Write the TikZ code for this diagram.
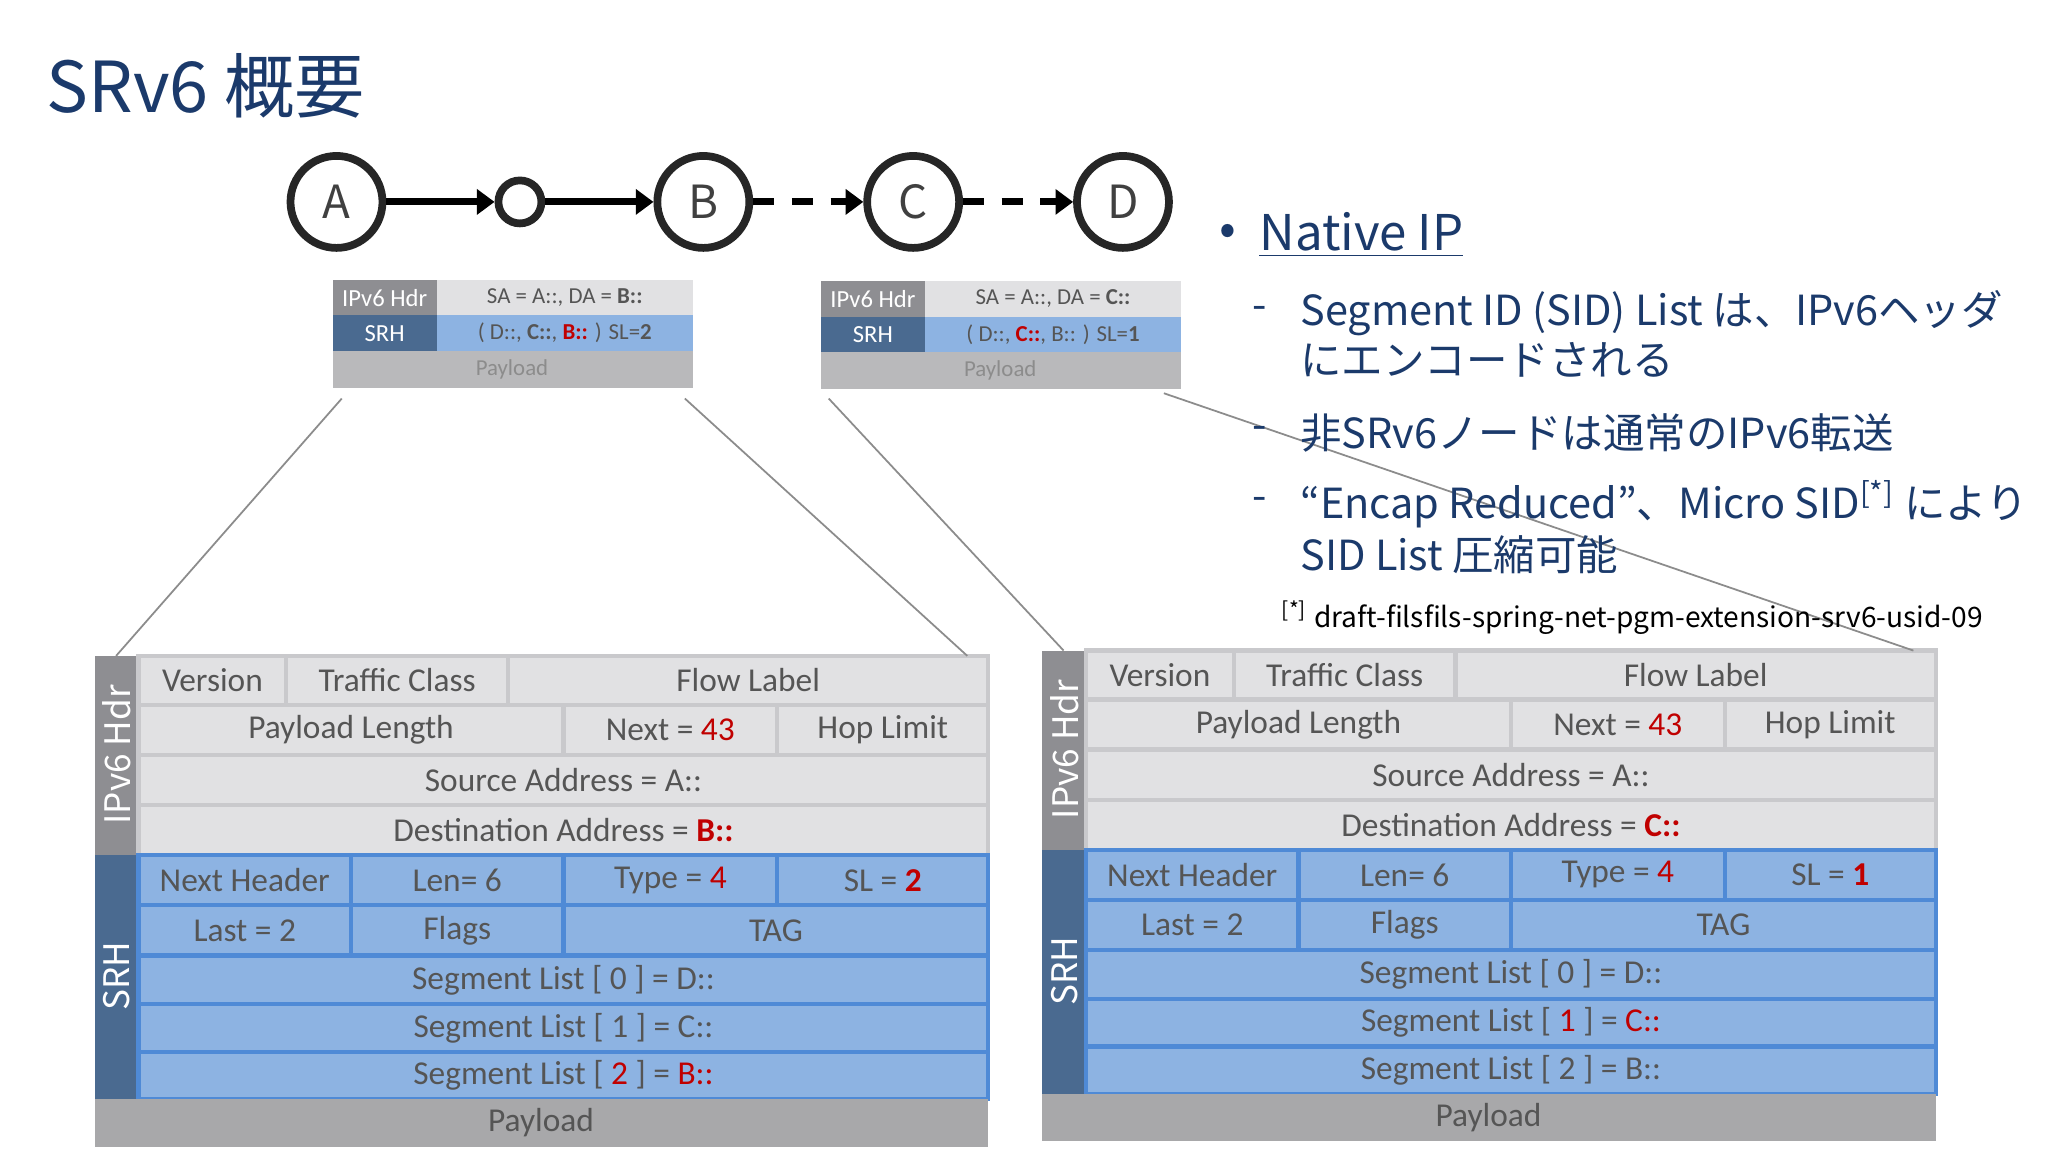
\documentclass[tikz,border=0pt]{standalone}
\usepackage{fontspec}
\setmainfont{Noto Sans CJK JP}
\newfontfamily\carl{Carlito}
\usetikzlibrary{arrows.meta}
\definecolor{hdrgray}{HTML}{E1E1E3}
\definecolor{hdrline}{HTML}{C9C9CC}
\definecolor{srhblue}{HTML}{8DB3E2}
\definecolor{srhline}{HTML}{4F8AD6}
\definecolor{lblgray}{HTML}{8E8E92}
\definecolor{lblblue}{HTML}{4A6A90}
\definecolor{paygray}{HTML}{A8A8AA}
\definecolor{txtgray}{HTML}{555555}
\definecolor{redtxt}{HTML}{C00000}
\definecolor{titleblue}{HTML}{1B3A6B}
\tikzset{
  hop/.style={circle, draw=black!85, line width=2.2pt, minimum size=9.2mm, inner sep=0pt, font=\fontsize{13}{13}\selectfont, text=black!75},
  link/.style={line width=2pt, -{Triangle[length=5pt,width=7pt]}},
  hcell/.style={fill=hdrgray, draw=hdrline, line width=1.2pt},
  scell/.style={fill=srhblue, draw=srhline, line width=1.2pt},
  cellt/.style={font=\carl\fontsize{9.5}{10}\selectfont, text=txtgray},
  boxt/.style={font=\carl\fontsize{6.5}{7}\selectfont, text=txtgray},
  zoomline/.style={draw=black!45, line width=0.5pt}
}
% cell: x1 x2 y1 y2 style text
\newcommand\cell[6]{\path[#5] (#1,#3) rectangle (#2,#4);
  \node[cellt] at ({(#1+#2)/2},{(#3+#4)/2}) {#6};}
\newcommand\rd[1]{\textcolor{redtxt}{#1}}
% full header table
\newcommand\pkt[5]{%
\begin{scope}[shift={(#1)}]
  \fill[lblgray] (72,497) rectangle (105,648);
  \fill[lblblue] (72,648) rectangle (105,833);
  \node[rotate=90, text=white, font=\fontsize{10}{10}\selectfont] at (88.5,572) {IPv6 Hdr};
  \node[rotate=90, text=white, font=\fontsize{10}{10}\selectfont] at (88.5,740) {SRH};
  \cell{105}{217}{497}{534}{hcell}{Version}
  \cell{217}{385}{497}{534}{hcell}{Traffic Class}
  \cell{385}{749}{497}{534}{hcell}{Flow Label}
  \cell{105}{427}{534}{572}{hcell}{Payload Length}
  \cell{427}{589}{534}{572}{hcell}{Next = \rd{43}}
  \cell{589}{749}{534}{572}{hcell}{Hop Limit}
  \cell{105}{749}{572}{610}{hcell}{Source Address = A::}
  \cell{105}{749}{610}{648}{hcell}{Destination Address = \rd{\bfseries #2}}
  \cell{105}{266}{648}{686}{scell}{Next Header}
  \cell{266}{427}{648}{686}{scell}{Len= 6}
  \cell{427}{589}{648}{686}{scell}{Type = \rd{4}}
  \cell{589}{749}{648}{686}{scell}{SL = \rd{\bfseries #3}}
  \cell{105}{266}{686}{724}{scell}{Last = 2}
  \cell{266}{427}{686}{724}{scell}{Flags}
  \cell{427}{749}{686}{724}{scell}{TAG}
  \cell{105}{749}{724}{761}{scell}{Segment List [ 0 ] = D::}
  \cell{105}{749}{761}{797}{scell}{#4}
  \cell{105}{749}{797}{833}{scell}{#5}
  \fill[paygray] (72,833) rectangle (749,869);
  \node[cellt] at (410,851) {Payload};
\end{scope}}
% small header box
\newcommand\mini[3]{%
\begin{scope}[shift={(#1)}]
  \fill[hdrgray] (252,212) rectangle (525,239);
  \fill[srhblue] (252,239) rectangle (525,266);
  \fill[paygray!80] (252,266) rectangle (525,294);
  \fill[lblgray] (252,212) rectangle (331,239);
  \fill[lblblue] (252,239) rectangle (331,266);
  \node[boxt, text=white, font=\carl\fontsize{7}{7}\selectfont] at (291.5,225.5) {IPv6 Hdr};
  \node[boxt, text=white, font=\carl\fontsize{7}{7}\selectfont] at (291.5,252.5) {SRH};
  \node[boxt] at (428,225.5) {SA = A::, DA = \textbf{#2}};
  \node[boxt] at (428,252.5) {#3};
  \node[boxt, text=black!45] at (388,280) {Payload};
\end{scope}}
\begin{document}
\begin{tikzpicture}[x=0.0132cm, y=-0.0132cm]
\useasboundingbox[fill=white] (0,0) rectangle (1552,873);
\node[anchor=west, text=titleblue, font=\fontsize{20}{20}\selectfont] (title) at (26,65) {SRv6 概要};

% topology
\node[hop] (A) at (255,153) {A};
\node[circle, draw=black!85, line width=2.2pt, minimum size=4.3mm] (s) at (394,153) {};
\node[hop] (B) at (533,153) {B};
\node[hop] (C) at (692,153) {C};
\node[hop] (D) at (851,153) {D};
\draw[link] (A) -- (s);
\draw[link] (s) -- (B);
\draw[link, dash pattern=on 6pt off 5pt] (B) -- (C);
\draw[link, dash pattern=on 6pt off 5pt] (C) -- (D);

% packets
\mini{0,0}{B::}{( D::, \textbf{C::}, \rd{\bfseries B::} ) SL=\textbf{2}}
\mini{370,1}{C::}{( D::, \rd{\bfseries C::}, B:: ) SL=\textbf{1}}
\pkt{0,0}{B::}{2}{Segment List [ 1 ] = C::}{Segment List [ \rd{2} ] = \rd{B::}}
\pkt{718,-4}{C::}{1}{Segment List [ \rd{1} ] = \rd{C::}}{Segment List [ 2 ] = B::}

% zoom lines
\coordinate (m1a) at (259,302); \coordinate (t1a) at (88,497);
\coordinate (m1b) at (519,302); \coordinate (t1b) at (733,497);
\coordinate (m2a) at (628,302); \coordinate (t2a) at (806,493);
\coordinate (m2b) at (882,298); \coordinate (t2b) at (1450,493);
\draw[zoomline] (m1a) -- (t1a);
\draw[zoomline] (m1b) -- (t1b);
\draw[zoomline] (m2a) -- (t2a);
\draw[zoomline] (m2b) -- (t2b);

% text
\node[anchor=west, text=titleblue, font=\fontsize{14}{14}\selectfont] at (915,178) {•};
\node[anchor=west, text=titleblue, font=\fontsize{14}{14}\selectfont] (nat) at (945,178) {\underline{Native IP}};
\begin{scope}[every node/.style={anchor=west, text=titleblue, font=\fontsize{11.8}{13}\selectfont}]
\node at (940,237) {-}; \node at (976,237) {Segment ID (SID) List は、IPv6ヘッダ};
\node at (976,273) {にエンコードされる};
\node at (940,328) {-}; \node at (976,328) {非SRv6ノードは通常のIPv6転送};
\node at (940,382) {-}; \node at (976,382) {“Encap Reduced”、Micro SID\textsuperscript{[*]} により};
\node at (976,420) {SID List 圧縮可能};
\end{scope}
\node[anchor=west, font=\fontsize{8}{8}\selectfont] at (962,468) {\textsuperscript{[*]} draft-filsfils-spring-net-pgm-extension-srv6-usid-09};
\end{tikzpicture}
\end{document}
